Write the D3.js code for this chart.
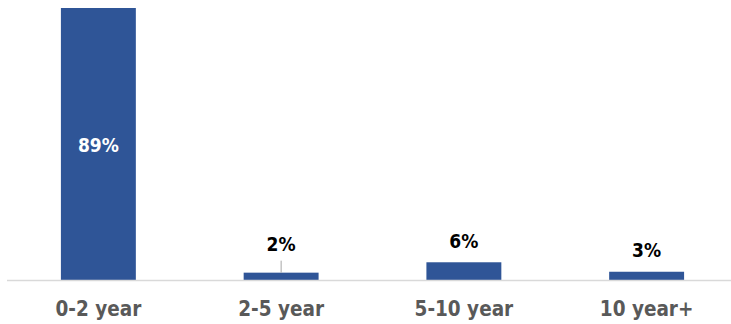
<!DOCTYPE html>
<html>
<head>
<meta charset="utf-8">
<script src="https://cdn.jsdelivr.net/npm/d3@7"></script>
<style>
  body { margin: 0; background: #fff; }
</style>
</head>
<body>
<div id="chart"></div>
<script>
var categories = ["0-2 year", "2-5 year", "5-10 year", "10 year+"];
var values = [89, 2.4, 5.8, 2.7];
var valueLabels = ["89%", "2%", "6%", "3%"];

var width = 731, height = 324;
var baseY = 280, topY = 8;

var svg = d3.select("#chart")
    .append("svg")
    .attr("width", width)
    .attr("height", height)
    .attr("font-family", "'DejaVu Sans Condensed', 'DejaVu Sans', sans-serif")
    .attr("font-weight", "bold");

var x = d3.scaleBand()
    .domain(categories)
    .range([7, 738])
    .paddingInner(0.59)
    .paddingOuter(0.295);

var y = d3.scaleLinear()
    .domain([0, d3.max(values)])
    .range([baseY, topY]);

// bars
svg.append("g")
    .selectAll("rect")
    .data(values)
    .enter()
    .append("rect")
    .attr("x", (d, i) => x(categories[i]))
    .attr("y", d => y(d))
    .attr("width", x.bandwidth())
    .attr("height", d => baseY - y(d))
    .attr("fill", "#2F5597");

// axis line
svg.append("line")
    .attr("x1", 7)
    .attr("x2", width)
    .attr("y1", baseY + 0.5)
    .attr("y2", baseY + 0.5)
    .attr("stroke", "#d9d9d9")
    .attr("stroke-width", 1.5);

// category labels
svg.append("g")
    .selectAll("text")
    .data(categories)
    .enter()
    .append("text")
    .attr("x", d => x(d) + x.bandwidth() / 2)
    .attr("y", 316)
    .attr("text-anchor", "middle")
    .attr("font-size", 20.5)
    .attr("fill", "#595959")
    .text(d => d);

// value labels
var labels = svg.append("g")
    .selectAll("g")
    .data(values)
    .enter()
    .append("g");

labels.append("text")
    .attr("x", (d, i) => x(categories[i]) + x.bandwidth() / 2)
    .attr("y", function(d, i){
        if (i === 0) return (y(d) + baseY) / 2 + 8;
        if (i === 1) return y(d) - 22;   // moved label, has a leader line
        return y(d) - 14.5;
    })
    .attr("text-anchor", "middle")
    .attr("font-size", 19)
    .attr("fill", (d, i) => i === 0 ? "#fff" : "#000")
    .text((d, i) => valueLabels[i]);

labels.filter((d, i) => i === 1)
    .append("line")
    .attr("x1", d => x(categories[1]) + x.bandwidth() / 2)
    .attr("x2", d => x(categories[1]) + x.bandwidth() / 2)
    .attr("y1", d => y(d) - 12)
    .attr("y2", d => y(d))
    .attr("stroke", "#a6a6a6")
    .attr("stroke-width", 1);
</script>
</body>
</html>
